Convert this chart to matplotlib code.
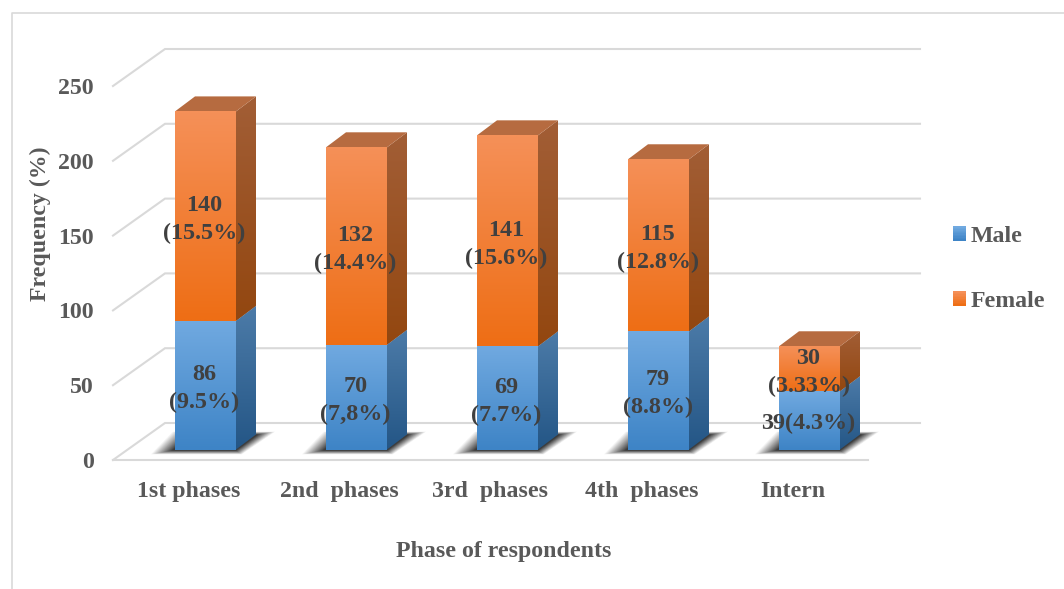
import numpy as np
import matplotlib
matplotlib.use('Agg')
import matplotlib.pyplot as plt
from matplotlib.colors import to_rgb
from matplotlib.lines import Line2D
from matplotlib.patches import Polygon, Patch, Rectangle
from matplotlib.legend_handler import HandlerBase

plt.rcParams['font.family'] = ['Liberation Serif', 'DejaVu Serif']
plt.rcParams['font.weight'] = 'bold'

# data
phases = ['1st phases', '2nd  phases', '3rd  phases', '4th  phases', 'Intern']
male = [86, 70, 69, 79, 39]
female = [140, 132, 141, 115, 30]
male_labels = ['86\n(9.5%)', '70\n(7,8%)', '69\n(7.7%)', '79\n(8.8%)', '39(4.3%)']
female_labels = ['140\n(15.5%)', '132\n(14.4%)', '141\n(15.6%)', '115\n(12.8%)', '30\n(3.33%)']
yticks = [0, 50, 100, 150, 200, 250]

W, H = 1064, 589
GRID = '#D9D9D9'

# colours: front top/bottom, side top/bottom, roof
BLUE = ('#70A9E0', '#3E84C6', '#4C7BA8', '#245686', '#5B8DBB')
ORANGE = ('#F59058', '#EE6E15', '#A25E36', '#934710', '#B66B40')

fig = plt.figure(figsize=(W/100, H/100), dpi=100)
left, right, top, bottom = 113, 868, 86, 460
ax = fig.add_axes([left/W, 1-bottom/H, (right-left)/W, (bottom-top)/H])
ax.set_xlim(-0.5, 4.5)
ax.set_ylim(0, 250)

# pixel sizes in data units, the fake 3d depth is set in pixels
ux = 5/(right-left)
uy = 250/(bottom-top)


def gradient_poly(verts, c_top, c_bot, z):
    verts = np.array(verts)
    t = np.linspace(0, 1, 64)[:, None, None]
    arr = (1-t)*np.array(to_rgb(c_top))[None, None, :] + t*np.array(to_rgb(c_bot))[None, None, :]
    im = ax.imshow(arr, extent=(verts[:, 0].min(), verts[:, 0].max(), verts[:, 1].min(), verts[:, 1].max()),
                   origin='upper', aspect='auto', interpolation='bilinear', zorder=z)
    im.set_clip_path(Polygon(verts, transform=ax.transData))


def draw_segment(x, y0, h, cols, z):
    x0 = x - bar_w/2
    x1 = x + bar_w/2
    y1 = y0 + h
    gradient_poly([(x0, y0), (x1, y0), (x1, y1), (x0, y1)], cols[0], cols[1], z+1)
    gradient_poly([(x1, y0), (x1+dep_x, y0+dep_y), (x1+dep_x, y1+dep_y), (x1, y1)], cols[2], cols[3], z)
    ax.add_patch(Polygon([(x0, y1), (x1, y1), (x1+dep_x, y1+dep_y), (x0+dep_x, y1+dep_y)],
                         fc=cols[4], ec='none', zorder=z))


def draw_shadow(x, y0):
    # soft floor shadow: layers go outer to inner, alpha chosen so the darkness grows evenly
    x0 = x - bar_w/2
    x1 = x + bar_w/2
    outer = np.array([(x0-25*ux, y0-5*uy), (x1+6*ux, y0-5*uy), (x1+40*ux, y0+18*uy), (x0-3*ux, y0+18*uy)])
    inner = np.array([(x0-3*ux, y0-1*uy), (x1, y0-1*uy), (x1+dep_x+2*ux, y0+dep_y), (x0+15*ux, y0+dep_y)])
    n = 24
    prev = 0.0
    for k in range(1, n+1):
        op = 0.85*k/n
        pts = inner + (outer-inner)*(1-k/n)
        ax.add_patch(Polygon(pts, fc='#1f1f1f', ec='none', alpha=1-(1-op)/(1-prev), zorder=2, clip_on=False))
        prev = op


# back wall and side wall gridlines
back_x, back_y = 52*ux, 37*uy
for v in yticks:
    ax.plot([-0.5, -0.5+back_x, 4.5+back_x], [v, v+back_y, v+back_y], color=GRID, lw=1.5,
            clip_on=False, zorder=1, solid_joinstyle='miter')
ax.plot([-0.5, 4.5], [0, 0], color=GRID, lw=1.5, clip_on=False, zorder=1)

# bars stand a little behind the front edge of the floor
off_x, off_y = 17*ux, 10.5*uy
bar_w = 61*ux
dep_x, dep_y = 20*ux, 15*uy
for i in range(len(phases)):
    x = i + off_x
    draw_shadow(x, off_y)
    draw_segment(x, off_y, male[i], BLUE, 3)
    draw_segment(x, off_y+male[i], female[i], ORANGE, 5)
    ax.text(x-1*ux, off_y+male[i]/2-3.5*uy, male_labels[i], ha='center', va='center', fontsize=17.4,
            color='#404040', linespacing=1.42, zorder=10)
    ax.text(x-1*ux, off_y+male[i]+female[i]/2-3.5*uy, female_labels[i], ha='center', va='center', fontsize=17.4,
            color='#404040', linespacing=1.42, zorder=10)

ax.set_xlim(-0.5, 4.5)
ax.set_ylim(0, 250)
ax.patch.set_visible(False)
for s in ax.spines.values():
    s.set_visible(False)

ax.set_xticks(range(len(phases)))
ax.set_xticklabels(phases)
ax.set_yticks(yticks)
ax.tick_params(axis='both', length=0, labelsize=17.2, labelcolor='#595959')
ax.tick_params(axis='x', pad=15)
ax.tick_params(axis='y', pad=14)
ax.set_xlabel('Phase of respondents', fontsize=17.2, color='#595959', fontweight='bold')
ax.set_ylabel('Frequency (%)', fontsize=17.2, color='#595959', fontweight='bold')
ax.xaxis.set_label_coords(0.518, -0.217)
ax.yaxis.set_label_coords((51-left)/(right-left), 0.632)


class GradientSwatch(HandlerBase):
    def __init__(self, c_top, c_bot):
        super().__init__()
        self.c_top = np.array(to_rgb(c_top))
        self.c_bot = np.array(to_rgb(c_bot))

    def create_artists(self, legend, orig, xd, yd, width, height, fontsize, trans):
        n = 10
        out = []
        for k in range(n):
            c = self.c_top + (self.c_bot-self.c_top)*k/(n-1)
            y = -yd + height*(1-(k+1)/n)
            out.append(Rectangle((-xd, y), width, height/n*1.05, fc=c, ec='none', transform=trans))
        return out


h_male = Patch(label='Male')
h_female = Patch(label='Female')
fig.legend(handles=[h_male, h_female], loc='center left', bbox_to_anchor=(941/W, 1-269/H),
           frameon=False, fontsize=17.2, labelcolor='#595959', labelspacing=1.85, borderpad=0,
           handlelength=0.54, handleheight=0.54, handletextpad=0.21,
           handler_map={h_male: GradientSwatch(BLUE[0], BLUE[1]),
                        h_female: GradientSwatch(ORANGE[0], ORANGE[1])})

# chart frame, only the left and top edges show
fig.add_artist(Line2D([12/W, 12/W, 1], [0, 1-13/H, 1-13/H], color=GRID, lw=1.2))

fig.savefig('out.png', dpi=100)
